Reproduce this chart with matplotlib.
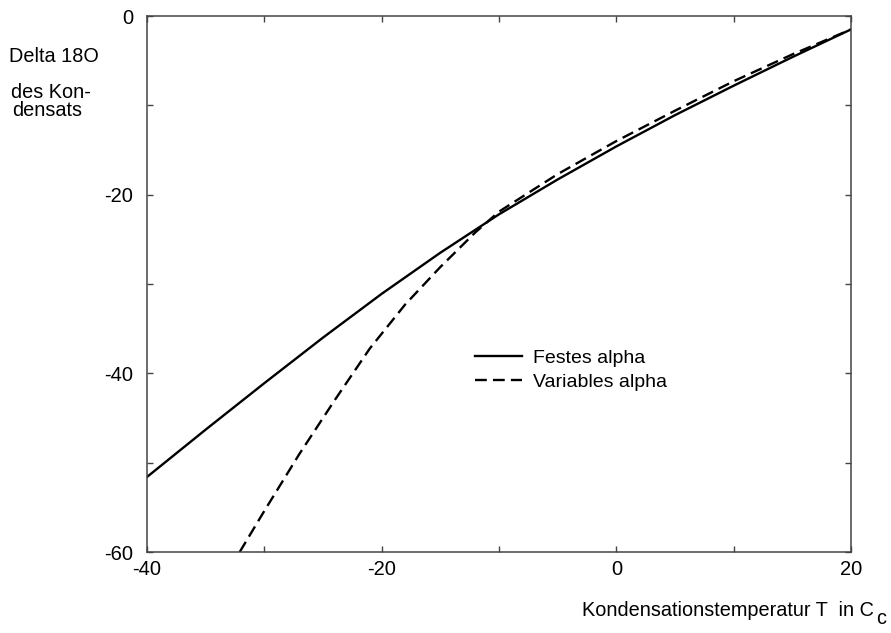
import matplotlib
matplotlib.use("Agg")
import matplotlib.pyplot as plt

plt.rcParams["font.family"] = ["Liberation Sans", "DejaVu Sans"]

# values
festes_x = [-40, -35, -30, -25, -20, -15, -10, -5, 0, 5, 10, 15, 20]
festes_y = [-51.6, -46.3, -41.1, -36.0, -31.1, -26.5, -22.2, -18.3, -14.6, -11.1, -7.8, -4.6, -1.5]

variabel_x = [-32.1, -30, -27, -24, -21, -18, -15, -12, -10, -5, 0, 5, 10, 15, 20]
variabel_y = [-60.0, -55.4, -49.0, -43.0, -37.2, -32.3, -28.1, -24.2, -21.9, -17.7, -14.0, -10.6, -7.3, -4.3, -1.5]

x_ticks = [-40, -30, -20, -10, 0, 10, 20]
x_ticklabels = ["-40", "", "-20", "", "0", "", "20"]
y_ticks = [-60, -50, -40, -30, -20, -10, 0]
y_ticklabels = ["-60", "", "-40", "", "-20", "", "0"]

W, H = 891, 633
fig = plt.figure(figsize=(W / 100, H / 100), dpi=100)
ax = fig.add_axes([147 / W, 1 - 552 / H, (851 - 147) / W, (552 - 16) / H])

ax.plot(festes_x, festes_y, color="black", lw=1.7, label="Festes alpha")
ax.plot(variabel_x, variabel_y, color="black", lw=1.7, dashes=(5, 2.6),
        label="Variables alpha")

ax.set_xlim(-40, 20)
ax.set_ylim(-60, 0)
ax.set_xticks(x_ticks)
ax.set_xticklabels(x_ticklabels)
ax.set_yticks(y_ticks)
ax.set_yticklabels(y_ticklabels)
ax.tick_params(direction="in", length=4, width=1, color="#444444",
               top=True, right=True, labelsize=14.5)
ax.tick_params(axis="x", pad=6)
ax.tick_params(axis="y", pad=10)
for s in ax.spines.values():
    s.set_color("#444444")
    s.set_linewidth(1.1)

ax.legend(loc="center left", bbox_to_anchor=((475 - 147) / 704, 1 - (370 - 16) / 536),
          frameon=False, fontsize=14, handlelength=2.4, handletextpad=0.6,
          labelspacing=0.3, borderpad=0, borderaxespad=0)

# y axis title, top left
fig.text(9 / W, 1 - 57 / H, "Delta 18O", fontsize=14.3, ha="left", va="center")
fig.text(11 / W, 1 - 93 / H, "des Kon-", fontsize=14.3, ha="left", va="center")
fig.text(12 / W, 1 - 111 / H, "densats", fontsize=14.3, ha="left", va="center")

# x axis title, bottom right, with subscript c
fig.text(874 / W, 1 - 611 / H, "Kondensationstemperatur T  in C", fontsize=14.3,
         ha="right", va="center")
fig.text(876 / W, 1 - 618 / H, "c", fontsize=14.3, ha="left", va="center")

fig.savefig("out.png", dpi=100)
